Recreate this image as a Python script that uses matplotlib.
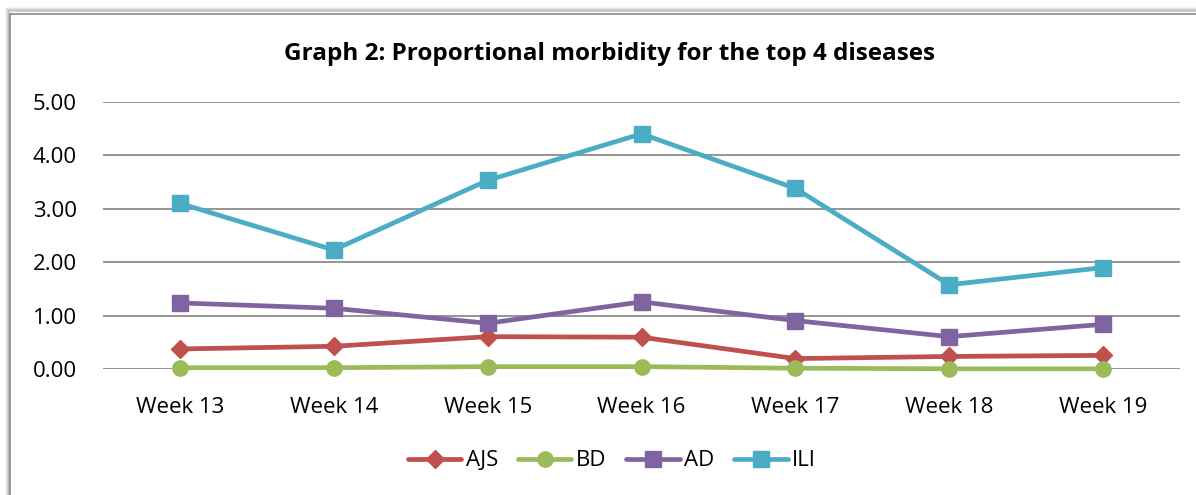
import matplotlib
matplotlib.use("Agg")
import matplotlib.pyplot as plt
from matplotlib.patches import Rectangle
from matplotlib.lines import Line2D

weeks = ["Week 13", "Week 14", "Week 15", "Week 16", "Week 17", "Week 18", "Week 19"]
ajs = [0.38, 0.43, 0.61, 0.60, 0.20, 0.24, 0.26]
bd = [0.03, 0.03, 0.05, 0.05, 0.02, 0.01, 0.01]
ad = [1.24, 1.14, 0.86, 1.26, 0.91, 0.61, 0.84]
ili = [3.10, 2.23, 3.53, 4.40, 3.38, 1.58, 1.90]
yticks = [0, 1, 2, 3, 4, 5]

W, H = 1196, 495
fig = plt.figure(figsize=(W / 100, H / 100), dpi=100)
fig.patch.set_facecolor("white")
plt.rcParams['font.family'] = ['Open Sans', 'DejaVu Sans']

# frame with shadow
for i, a in enumerate([0.10, 0.18, 0.28, 0.40]):
    off = 4 - i
    fig.add_artist(Rectangle(((9 - off) / W, 0), 2 / W, 1 - (13 - off) / H,
                             transform=fig.transFigure, color="black", alpha=a * 0.4, lw=0))
    fig.add_artist(Rectangle(((9 - off) / W, 1 - (13 - off) / H), 1, 2 / H,
                             transform=fig.transFigure, color="black", alpha=a * 0.4, lw=0))
fig.add_artist(Line2D([9.5 / W, 9.5 / W], [0, 1 - 13.5 / H], transform=fig.transFigure,
                      color="#8a8a8a", lw=1.2))
fig.add_artist(Line2D([9.5 / W, 1], [1 - 13.5 / H, 1 - 13.5 / H], transform=fig.transFigure,
                      color="#8a8a8a", lw=1.2))

left, right = 103 / W, 1180 / W
bottom, top = 1 - 369.3 / H, 1 - 101.7 / H
ax = fig.add_axes([left, bottom, right - left, top - bottom])
x = list(range(len(weeks)))

series = [
    ("AJS", ajs, "#C0504D", "D", 9),
    ("BD", bd, "#9BBB59", "o", 11),
    ("AD", ad, "#8064A2", "s", 11),
    ("ILI", ili, "#4BACC6", "s", 11),
]
handles = []
for name, vals, col, mk, ms in series:
    h, = ax.plot(x, vals, color=col, lw=3.4, marker=mk, markersize=ms,
                 markerfacecolor=col, markeredgecolor=col, label=name,
                 solid_capstyle="round", solid_joinstyle="round", zorder=3,
                 clip_on=False)
    handles.append(h)

ax.set_xlim(-0.5, len(weeks) - 0.5)
ax.set_ylim(0, 5)
ax.set_yticks(yticks)
ax.set_yticklabels([f"{v:.2f}" for v in yticks], fontsize=16)
ax.set_xticks(x)
ax.set_xticklabels(weeks, fontsize=16)
ax.tick_params(axis="both", length=0)
ax.tick_params(axis="y", pad=19)
ax.tick_params(axis="x", pad=20)
ax.grid(axis="y", color="#8c8c8c", lw=1.3)
ax.set_axisbelow(True)
for s in ax.spines.values():
    s.set_visible(False)

fig.text(609 / W, 1 - 54 / H, "Graph 2: Proportional morbidity for the top 4 diseases",
         ha="center", va="center", fontsize=17.5, fontweight="bold")

fig.legend(handles=handles, loc="center", bbox_to_anchor=(612 / W, 1 - 461 / H),
           ncol=4, frameon=False, fontsize=16, handlelength=2.4, columnspacing=0.9,
           handletextpad=0.2)

fig.savefig("out.png", dpi=100)
